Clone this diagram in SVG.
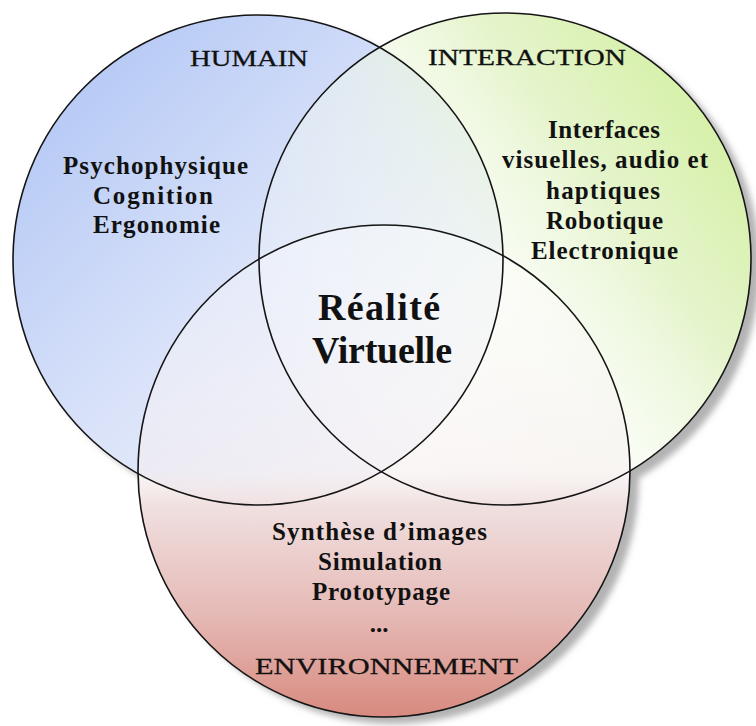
<svg xmlns="http://www.w3.org/2000/svg" width="756" height="726" viewBox="0 0 756 726">
  <style>
    .outline { fill: none; stroke: #151515; stroke-width: 1.6; }
    .head { font-family: "Liberation Serif", "Times New Roman", serif; font-size: 24px; fill: #111; stroke: #111; stroke-width: 0.3; text-anchor: middle; }
    .body { font-family: "Liberation Serif", "Times New Roman", serif; font-size: 25px; font-weight: bold; fill: #111; text-anchor: middle; }
    .title { font-family: "Liberation Serif", "Times New Roman", serif; font-size: 38px; font-weight: bold; fill: #111; text-anchor: middle; }
  </style>
  <defs>
    <filter id="shadow" x="-10%" y="-10%" width="125%" height="125%">
      <feGaussianBlur in="SourceAlpha" stdDeviation="3"/>
      <feOffset dx="9" dy="7" result="blur"/>
      <feFlood flood-color="#8a8a8a" flood-opacity="0.65"/>
      <feComposite in2="blur" operator="in" result="sh"/>
      <feMerge>
        <feMergeNode in="sh"/>
        <feMergeNode in="SourceGraphic"/>
      </feMerge>
    </filter>
    <linearGradient id="gBlue" x1="0.1" y1="0.1" x2="0.9" y2="0.9">
      <stop offset="0" stop-color="#b4c8f5"/>
      <stop offset="0.5" stop-color="#d9e2f9"/>
      <stop offset="1" stop-color="#f6f7fd"/>
    </linearGradient>
    <linearGradient id="gGreen" x1="1" y1="0.2" x2="0.1" y2="0.85">
      <stop offset="0" stop-color="#d2ef9e" stop-opacity="1"/>
      <stop offset="0.3" stop-color="#e2f3c6" stop-opacity="0.9"/>
      <stop offset="0.55" stop-color="#f3faea" stop-opacity="0.5"/>
      <stop offset="1" stop-color="#ffffff" stop-opacity="0.15"/>
    </linearGradient>
    <linearGradient id="gRed" x1="0" y1="0" x2="0" y2="1">
      <stop offset="0" stop-color="#ffffff" stop-opacity="0.3"/>
      <stop offset="0.5" stop-color="#f6eeee" stop-opacity="0.55"/>
      <stop offset="0.57" stop-color="#f0e0e0" stop-opacity="1"/>
      <stop offset="0.8" stop-color="#e5b8b4" stop-opacity="1"/>
      <stop offset="1" stop-color="#d88a7e" stop-opacity="1"/>
    </linearGradient>
  </defs>

  <g id="base" filter="url(#shadow)">
    <circle cx="258" cy="260" r="245" fill="#ffffff"/>
    <circle cx="505" cy="259" r="246" fill="#ffffff"/>
    <circle cx="384" cy="471" r="246" fill="#ffffff"/>
  </g>

  <g id="humain">
    <circle cx="258" cy="260" r="245" fill="url(#gBlue)"/>
    <text class="head" x="249" y="66" textLength="118" lengthAdjust="spacingAndGlyphs">HUMAIN</text>
    <text class="body" x="155.5" y="174" textLength="185" lengthAdjust="spacing">Psychophysique</text>
    <text class="body" x="153" y="204" textLength="120" lengthAdjust="spacing">Cognition</text>
    <text class="body" x="156.5" y="233" textLength="127" lengthAdjust="spacing">Ergonomie</text>
  </g>

  <g id="interaction">
    <circle cx="505" cy="259" r="246" fill="url(#gGreen)"/>
    <text class="head" x="527" y="65" textLength="198" lengthAdjust="spacingAndGlyphs">INTERACTION</text>
    <text class="body" x="604" y="138" textLength="112" lengthAdjust="spacing">Interfaces</text>
    <text class="body" x="605" y="168" textLength="206" lengthAdjust="spacing">visuelles, audio et</text>
    <text class="body" x="603" y="199" textLength="114" lengthAdjust="spacing">haptiques</text>
    <text class="body" x="604.5" y="229" textLength="117" lengthAdjust="spacing">Robotique</text>
    <text class="body" x="604.5" y="259" textLength="147" lengthAdjust="spacing">Electronique</text>
  </g>

  <g id="environnement">
    <circle cx="384" cy="471" r="246" fill="url(#gRed)"/>
    <text class="body" x="379.5" y="540" textLength="215" lengthAdjust="spacing">Synthèse d’images</text>
    <text class="body" x="380" y="570" textLength="124" lengthAdjust="spacing">Simulation</text>
    <text class="body" x="381" y="600" textLength="138" lengthAdjust="spacing">Prototypage</text>
    <text class="body" x="379" y="632">...</text>
    <text class="head" x="386.5" y="674" textLength="263" lengthAdjust="spacingAndGlyphs">ENVIRONNEMENT</text>
  </g>

  <g id="outlines">
    <circle class="outline" cx="258" cy="260" r="245"/>
    <circle class="outline" cx="505" cy="259" r="246"/>
    <circle class="outline" cx="384" cy="471" r="246"/>
  </g>

  <g id="realite-virtuelle">
    <text class="title" x="379" y="320" textLength="122" lengthAdjust="spacing">Réalité</text>
    <text class="title" x="382" y="363" textLength="140" lengthAdjust="spacing">Virtuelle</text>
  </g>
</svg>
